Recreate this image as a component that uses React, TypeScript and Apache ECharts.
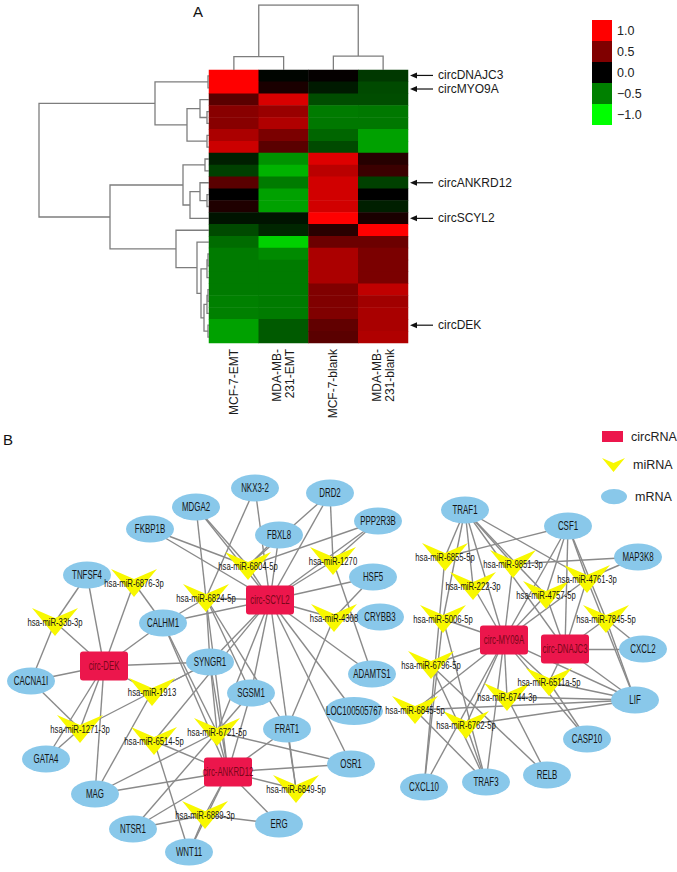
import { useEffect, useRef } from 'react';
import * as echarts from 'echarts';

const FONT = "'Liberation Sans', Arial, Helvetica, sans-serif";

// ---------------- Panel A data ----------------
const sampleLabels = ['MCF-7-EMT', 'MDA-MB-\n231-EMT', 'MCF-7-blank', 'MDA-MB-\n231-blank'];
const heatValues: number[][] = [
  [1.0, -0.02, 0.02, -0.22],
  [1.0, 0.1, -0.1, -0.29],
  [0.35, 0.85, -0.3, -0.3],
  [0.53, 0.6, -0.48, -0.47],
  [0.53, 0.69, -0.47, -0.47],
  [0.67, 0.48, -0.4, -0.63],
  [0.8, 0.35, -0.29, -0.63],
  [-0.12, -0.57, 0.87, 0.15],
  [-0.25, -0.7, 0.73, 0.23],
  [0.35, -0.48, 0.82, -0.25],
  [0.0, -0.63, 0.82, 0.0],
  [0.12, -0.63, 0.82, -0.12],
  [-0.08, -0.08, 1.0, 0.1],
  [-0.29, -0.15, 0.16, 1.0],
  [-0.42, -0.82, 0.42, 0.42],
  [-0.48, -0.54, 0.67, 0.48],
  [-0.48, -0.48, 0.67, 0.48],
  [-0.48, -0.48, 0.67, 0.48],
  [-0.48, -0.48, 0.5, 0.75],
  [-0.5, -0.48, 0.5, 0.63],
  [-0.5, -0.48, 0.5, 0.66],
  [-0.63, -0.35, 0.38, 0.66],
  [-0.63, -0.35, 0.35, 0.69],
];
const markedRows = [0, 1, 9, 12, 21];
const markedNames = ['circDNAJC3', 'circMYO9A', 'circANKRD12', 'circSCYL2', 'circDEK'];
// row clustering merges: [childA, childB, height]; ids < 23 are rows, ids >= 23 are earlier merges
const rowMerges: [number, number, number][] = [
  [0, 1, 0.01], [3, 4, 0.02], [2, 24, 0.09], [5, 6, 0.02], [25, 26, 0.22], [23, 27, 0.54],
  [7, 8, 0.04], [10, 11, 0.02], [9, 30, 0.09], [31, 12, 0.19], [29, 32, 0.26],
  [15, 16, 0.01], [34, 17, 0.02], [18, 19, 0.01], [36, 20, 0.02], [21, 22, 0.01],
  [37, 38, 0.05], [35, 39, 0.08], [14, 40, 0.12], [13, 41, 0.33], [33, 42, 0.99], [28, 43, 1.7],
];
const colMerges: [number, number, number][] = [[0, 1, 0.205], [2, 3, 0.215], [4, 5, 1.0]];
const scaleStops = [-1, -0.5, 0, 0.5, 1];
const scaleColors = ['#00ff00', '#008000', '#000000', '#800000', '#ff0000'];

// ---------------- Panel B data ----------------
const circNames = ['circ-DEK', 'circ-SCYL2', 'circ-ANKRD12', 'circ-MY09A', 'circ-DNAJC3'];
const mirNames = [
  'hsa-miR-6876-3p', 'hsa-miR-33b-3p', 'hsa-miR-6804-5p', 'hsa-miR-6824-5p', 'hsa-miR-1270', 'hsa-miR-4308',
  'hsa-miR-1913', 'hsa-miR-1271-3p', 'hsa-miR-6514-5p', 'hsa-miR-6721-5p', 'hsa-miR-6849-5p', 'hsa-miR-6889-3p',
  'hsa-miR-6855-5p', 'hsa-miR-9851-3p', 'hsa-miR-222-3p', 'hsa-miR-4761-3p', 'hsa-miR-4757-5p', 'hsa-miR-5006-5p',
  'hsa-miR-7845-5p', 'hsa-miR-6796-5p', 'hsa-miR-6511a-5p', 'hsa-miR-6744-3p', 'hsa-miR-6845-5p', 'hsa-miR-6762-5p',
];
const mrnaNames = [
  'NKX3-2', 'MDGA2', 'DRD2', 'FKBP1B', 'FBXL8', 'PPP2R3B', 'TNFSF4', 'HSF5', 'CRYBB3', 'CALHM1', 'CACNA1I',
  'SYNGR1', 'SGSM1', 'ADAMTS1', 'LOC100505767', 'GATA4', 'FRAT1', 'OSR1', 'MAG', 'ERG', 'NTSR1', 'WNT11',
  'TRAF1', 'CSF1', 'MAP3K8', 'CXCL2', 'LIF', 'CASP10', 'RELB', 'TRAF3', 'CXCL10',
];
// network layout (x, y) in the page's own pixel frame
const circLayout = [[104, 666], [270, 600], [228, 772], [504, 640], [565, 649]];
const mirLayout = [
  [134, 583], [55, 622], [248, 566], [206, 598], [333, 561], [334, 618],
  [152, 692], [80, 729], [154, 741], [217, 732], [296, 789], [205, 815],
  [445, 557], [513, 564], [473, 586], [587, 579], [546, 595], [443, 619],
  [606, 619], [431, 665], [549, 682], [507, 697], [415, 710], [466, 725],
];
const mrnaLayout = [
  [255, 488], [196, 507], [330, 493], [150, 529], [279, 535], [378, 521], [87, 575], [373, 577], [380, 617],
  [163, 623], [31, 681], [210, 662], [251, 693], [372, 674], [354, 711], [46, 759], [287, 729], [351, 764],
  [95, 794], [279, 824], [133, 829], [189, 852], [465, 510], [568, 526], [638, 557], [643, 649], [635, 700],
  [587, 739], [547, 775], [486, 782], [424, 787],
];
const edges: [string, string][] = [
  ['circ-DEK', 'CACNA1I'], ['circ-DEK', 'SYNGR1'], ['circ-DEK', 'CALHM1'], ['circ-DEK', 'TNFSF4'],
  ['circ-DEK', 'GATA4'], ['circ-DEK', 'MAG'], ['circ-DEK', 'hsa-miR-33b-3p'], ['circ-DEK', 'hsa-miR-6876-3p'],
  ['circ-DEK', 'hsa-miR-1271-3p'], ['circ-DEK', 'hsa-miR-1913'],
  ['hsa-miR-33b-3p', 'TNFSF4'], ['hsa-miR-33b-3p', 'CACNA1I'], ['hsa-miR-6876-3p', 'CALHM1'],
  ['hsa-miR-1271-3p', 'CACNA1I'], ['hsa-miR-1271-3p', 'GATA4'], ['hsa-miR-1271-3p', 'SYNGR1'],
  ['hsa-miR-1913', 'SYNGR1'], ['hsa-miR-1913', 'MAG'],
  ['circ-SCYL2', 'hsa-miR-6804-5p'], ['circ-SCYL2', 'hsa-miR-6824-5p'], ['circ-SCYL2', 'hsa-miR-1270'],
  ['circ-SCYL2', 'hsa-miR-4308'], ['circ-SCYL2', 'hsa-miR-6721-5p'], ['circ-SCYL2', 'hsa-miR-6849-5p'],
  ['circ-SCYL2', 'hsa-miR-6514-5p'], ['circ-SCYL2', 'NKX3-2'], ['circ-SCYL2', 'DRD2'], ['circ-SCYL2', 'FBXL8'],
  ['circ-SCYL2', 'PPP2R3B'], ['circ-SCYL2', 'HSF5'], ['circ-SCYL2', 'CALHM1'], ['circ-SCYL2', 'SYNGR1'],
  ['circ-SCYL2', 'SGSM1'], ['circ-SCYL2', 'ADAMTS1'], ['circ-SCYL2', 'LOC100505767'], ['circ-SCYL2', 'OSR1'],
  ['circ-SCYL2', 'MDGA2'], ['circ-SCYL2', 'FKBP1B'],
  ['hsa-miR-6804-5p', 'FKBP1B'], ['hsa-miR-6804-5p', 'MDGA2'], ['hsa-miR-6804-5p', 'FBXL8'],
  ['hsa-miR-6804-5p', 'PPP2R3B'], ['hsa-miR-6804-5p', 'DRD2'],
  ['hsa-miR-6824-5p', 'NKX3-2'], ['hsa-miR-6824-5p', 'MDGA2'], ['hsa-miR-6824-5p', 'CALHM1'],
  ['hsa-miR-6824-5p', 'SYNGR1'], ['hsa-miR-6824-5p', 'SGSM1'], ['hsa-miR-6824-5p', 'circ-ANKRD12'],
  ['hsa-miR-6824-5p', 'FRAT1'],
  ['hsa-miR-1270', 'DRD2'], ['hsa-miR-1270', 'PPP2R3B'], ['hsa-miR-1270', 'ADAMTS1'],
  ['hsa-miR-4308', 'HSF5'], ['hsa-miR-4308', 'FRAT1'], ['hsa-miR-4308', 'CRYBB3'],
  ['hsa-miR-6721-5p', 'CALHM1'], ['hsa-miR-6721-5p', 'SYNGR1'], ['hsa-miR-6721-5p', 'SGSM1'],
  ['hsa-miR-6721-5p', 'MAG'], ['hsa-miR-6721-5p', 'NTSR1'], ['hsa-miR-6721-5p', 'OSR1'],
  ['circ-ANKRD12', 'hsa-miR-6721-5p'], ['circ-ANKRD12', 'FRAT1'], ['circ-ANKRD12', 'OSR1'],
  ['circ-ANKRD12', 'MAG'], ['circ-ANKRD12', 'ERG'], ['circ-ANKRD12', 'WNT11'], ['circ-ANKRD12', 'NTSR1'],
  ['circ-ANKRD12', 'CALHM1'], ['circ-ANKRD12', 'SGSM1'], ['circ-ANKRD12', 'SYNGR1'],
  ['circ-ANKRD12', 'hsa-miR-6514-5p'], ['circ-ANKRD12', 'hsa-miR-6889-3p'], ['circ-ANKRD12', 'hsa-miR-6849-5p'],
  ['hsa-miR-6514-5p', 'WNT11'], ['hsa-miR-6849-5p', 'FRAT1'],
  ['hsa-miR-6889-3p', 'ERG'], ['hsa-miR-6889-3p', 'WNT11'], ['hsa-miR-6889-3p', 'NTSR1'],
  ['circ-MY09A', 'TRAF1'], ['circ-MY09A', 'CSF1'], ['circ-MY09A', 'LIF'], ['circ-MY09A', 'TRAF3'],
  ['circ-MY09A', 'CXCL10'], ['circ-MY09A', 'CASP10'], ['circ-MY09A', 'hsa-miR-222-3p'],
  ['circ-MY09A', 'hsa-miR-9851-3p'], ['circ-MY09A', 'hsa-miR-4761-3p'], ['circ-MY09A', 'hsa-miR-5006-5p'],
  ['circ-MY09A', 'hsa-miR-6796-5p'], ['circ-MY09A', 'hsa-miR-6845-5p'], ['circ-MY09A', 'hsa-miR-6762-5p'],
  ['circ-MY09A', 'hsa-miR-6744-3p'], ['circ-MY09A', 'hsa-miR-6511a-5p'], ['circ-MY09A', 'hsa-miR-4757-5p'],
  ['circ-DNAJC3', 'CSF1'], ['circ-DNAJC3', 'CXCL2'], ['circ-DNAJC3', 'LIF'], ['circ-DNAJC3', 'hsa-miR-4757-5p'],
  ['circ-DNAJC3', 'hsa-miR-4761-3p'], ['circ-DNAJC3', 'hsa-miR-7845-5p'], ['circ-DNAJC3', 'hsa-miR-6511a-5p'],
  ['circ-DNAJC3', 'TRAF1'],
  ['TRAF1', 'hsa-miR-6855-5p'], ['TRAF1', 'hsa-miR-9851-3p'], ['TRAF1', 'hsa-miR-4757-5p'],
  ['TRAF1', 'hsa-miR-4761-3p'], ['TRAF1', 'hsa-miR-5006-5p'], ['TRAF1', 'hsa-miR-222-3p'],
  ['CSF1', 'hsa-miR-6855-5p'], ['CSF1', 'hsa-miR-4757-5p'], ['CSF1', 'hsa-miR-4761-3p'], ['CSF1', 'hsa-miR-7845-5p'],
  ['MAP3K8', 'hsa-miR-9851-3p'], ['MAP3K8', 'hsa-miR-4761-3p'],
  ['hsa-miR-6855-5p', 'CXCL10'], ['hsa-miR-5006-5p', 'TRAF3'], ['hsa-miR-5006-5p', 'CXCL10'],
  ['hsa-miR-6796-5p', 'TRAF3'], ['hsa-miR-6796-5p', 'RELB'], ['hsa-miR-6845-5p', 'LIF'], ['hsa-miR-6845-5p', 'TRAF3'],
  ['hsa-miR-6762-5p', 'LIF'], ['hsa-miR-6762-5p', 'TRAF3'], ['hsa-miR-6744-3p', 'LIF'], ['hsa-miR-6744-3p', 'RELB'],
  ['hsa-miR-6511a-5p', 'LIF'], ['hsa-miR-6511a-5p', 'CASP10'], ['hsa-miR-7845-5p', 'CXCL2'],
  ['hsa-miR-7845-5p', 'LIF'], ['hsa-miR-4761-3p', 'LIF'],
];
const nodeTypes = ['circRNA', 'miRNA', 'mRNA'];

// ---------------- helpers ----------------
function dendroSegments(merges: [number, number, number][], nLeaves: number) {
  const pos: number[] = [];
  const hgt: number[] = [];
  for (let i = 0; i < nLeaves; i++) { pos[i] = i + 0.5; hgt[i] = 0; }
  const segs: number[][][] = [];
  merges.forEach(([a, b, h], k) => {
    const id = nLeaves + k;
    pos[id] = (pos[a] + pos[b]) / 2;
    hgt[id] = h;
    segs.push([[hgt[a], pos[a]], [h, pos[a]], [h, pos[b]], [hgt[b], pos[b]]]);
  });
  return segs;
}

const RED = '#ec164c';
const YELLOW = '#f8f800';
const BLUE = '#89c8ea';
const rectSym = 'path://M3,0 L45,0 Q48,0 48,3 L48,26 Q48,29 45,29 L3,29 Q0,29 0,26 L0,3 Q0,0 3,0 Z';
const vSym = 'path://M0,0 L23,10 L46,0 L23,28 Z';
const ellSym = 'path://M0,14 A24,14 0 1 1 48,14 A24,14 0 1 1 0,14 Z';
const labelFont = [12, 11, 12];
const labelScale = [0.65, 0.7, 0.66];

export default function App() {
  const ref = useRef<HTMLDivElement>(null);
  useEffect(() => {
    if (!ref.current) return;
    const chart = echarts.init(ref.current, undefined, { renderer: 'svg' });
    const nRows = heatValues.length;
    const rowIds = heatValues.map((_, i) => 'row' + (i + 1));
    const heatData: number[][] = [];
    heatValues.forEach((row, r) => row.forEach((v, c) => heatData.push([c, r, v])));

    const rowSegs = dendroSegments(rowMerges, nRows);
    const colSegs = dendroSegments(colMerges, sampleLabels.length).map((s) => s.map(([h, p]) => [p, h]));

    const nodes: any[] = [];
    circNames.forEach((n, i) => nodes.push({
      name: n, value: circLayout[i], category: 0, symbol: rectSym, symbolSize: [48, 29],
    }));
    mirNames.forEach((n, i) => nodes.push({
      name: n, value: mirLayout[i], category: 1, symbol: vSym, symbolSize: [46, 28],
    }));
    mrnaNames.forEach((n, i) => nodes.push({
      name: n, value: mrnaLayout[i], category: 2, symbol: ellSym,
      symbolSize: n.length > 8 ? [58, 28] : [48, 27],
    }));
    const links = edges.map(([s, t]) => ({ source: s, target: t }));

    const legendTextStyle = { fontSize: 12.5, color: '#222', fontFamily: FONT, padding: [0, 0, 0, 3] };

    const graphic: any[] = [
      { type: 'text', left: 193, top: 4, style: { text: 'A', fontSize: 15, fill: '#111', fontFamily: FONT } },
      { type: 'text', left: 3, top: 432, style: { text: 'B', fontSize: 15, fill: '#111', fontFamily: FONT } },
    ];
    const legendStops = scaleStops.slice().reverse();
    const legendColors = scaleColors.slice().reverse();
    legendStops.forEach((v, i) => {
      graphic.push({ type: 'rect', shape: { x: 592, y: 20 + i * 21, width: 20, height: 21 }, style: { fill: legendColors[i] } });
      graphic.push({
        type: 'text', x: 617, y: 20 + i * 21 + 10.5,
        style: { text: v.toFixed(1).replace('-', '\u2212'), fontSize: 12.5, fill: '#222', fontFamily: FONT, verticalAlign: 'middle' },
      });
    });

    const option: any = {
      animation: false,
      backgroundColor: '#ffffff',
      grid: [
        { left: 209, top: 70, width: 199, height: 273 },
        { left: 39, top: 70, width: 170, height: 273 },
        { left: 209, top: 5, width: 199, height: 65 },
        { left: 0, top: 0, width: 677, height: 872 },
      ],
      xAxis: [
        {
          gridIndex: 0, type: 'category', data: sampleLabels, axisLine: { show: false }, axisTick: { show: false },
          splitLine: { show: false },
          axisLabel: { rotate: 90, fontSize: 12, lineHeight: 13, color: '#1a1a1a', fontFamily: FONT, margin: 6, interval: 0 },
        },
        { gridIndex: 1, type: 'value', min: 0, max: 1.7, inverse: true, show: false },
        { gridIndex: 2, type: 'value', min: 0, max: 4, show: false },
        { gridIndex: 3, type: 'value', min: 0, max: 677, show: false },
      ],
      yAxis: [
        { gridIndex: 0, type: 'category', data: rowIds, inverse: true, show: false },
        { gridIndex: 1, type: 'value', min: 0, max: nRows, inverse: true, show: false },
        { gridIndex: 2, type: 'value', min: 0, max: 1, show: false },
        { gridIndex: 3, type: 'value', min: 0, max: 872, inverse: true, show: false },
      ],
      visualMap: {
        type: 'continuous', show: false, min: -1, max: 1, seriesIndex: 0, dimension: 2,
        inRange: { color: scaleColors },
      },
      legend: [
        { data: [{ name: 'circRNA', icon: 'path://M0,0 L21,0 L21,11 L0,11 Z' }], left: 602, top: 430, itemWidth: 21, itemHeight: 11, textStyle: legendTextStyle, selectedMode: false, padding: 0 },
        { data: [{ name: 'miRNA', icon: vSym }], left: 602, top: 458, itemWidth: 23, itemHeight: 19, textStyle: legendTextStyle, selectedMode: false, padding: 0 },
        { data: [{ name: 'mRNA', icon: ellSym }], left: 601, top: 489, itemWidth: 26, itemHeight: 16, textStyle: legendTextStyle, selectedMode: false, padding: 0 },
      ],
      graphic,
      series: [
        {
          type: 'heatmap', xAxisIndex: 0, yAxisIndex: 0, data: heatData, silent: true,
          itemStyle: { borderWidth: 0 },
        },
        {
          type: 'lines', coordinateSystem: 'cartesian2d', xAxisIndex: 1, yAxisIndex: 1, polyline: true, silent: true,
          data: rowSegs.map((c) => ({ coords: c })), lineStyle: { color: '#7d7d7d', width: 1.3, opacity: 1 },
        },
        {
          type: 'lines', coordinateSystem: 'cartesian2d', xAxisIndex: 2, yAxisIndex: 2, polyline: true, silent: true,
          data: colSegs.map((c) => ({ coords: c })), lineStyle: { color: '#7d7d7d', width: 1.3, opacity: 1 },
        },
        {
          type: 'custom', xAxisIndex: 0, yAxisIndex: 0, silent: true, clip: false,
          data: markedRows.map((r) => [sampleLabels.length - 1, r]),
          renderItem: (params: any, api: any) => {
            const p = api.coord([api.value(0), api.value(1)]);
            const sz = api.size([1, 1]);
            const x0 = p[0] + sz[0] / 2 + 2;
            const dy = params.dataIndex === 0 ? -0.5 : params.dataIndex === 1 ? 1.2 : 0;
            const y = p[1] + dy;
            return {
              type: 'group',
              children: [
                { type: 'line', shape: { x1: x0 + 5, y1: y, x2: x0 + 23, y2: y }, style: { stroke: '#111', lineWidth: 1.2 } },
                { type: 'polygon', shape: { points: [[x0, y], [x0 + 7, y - 3], [x0 + 7, y + 3]] }, style: { fill: '#111' } },
                {
                  type: 'text', x: x0 + 28, y,
                  style: { text: markedNames[params.dataIndex], fontSize: 12, fill: '#1a1a1a', fontFamily: FONT, verticalAlign: 'middle' },
                },
              ],
            };
          },
        },
        {
          type: 'graph', coordinateSystem: 'cartesian2d', xAxisIndex: 3, yAxisIndex: 3, silent: true,
          categories: nodeTypes.map((n, i) => ({
            name: n, symbol: [rectSym, vSym, ellSym][i], itemStyle: { color: [RED, YELLOW, BLUE][i] },
          })),
          data: nodes, links,
          lineStyle: { color: '#8a8a8a', width: 1.4, opacity: 1, curveness: 0 },
          label: { show: false },
          emphasis: { disabled: true },
        },
        {
          type: 'custom', xAxisIndex: 3, yAxisIndex: 3, silent: true, z: 5,
          data: nodes.map((n) => n.value),
          renderItem: (params: any, api: any) => {
            const p = api.coord([api.value(0), api.value(1)]);
            const n = nodes[params.dataIndex];
            return {
              type: 'text', x: p[0], y: p[1], scaleX: labelScale[n.category],
              style: {
                text: n.name, x: 0, y: 0, align: 'center', verticalAlign: 'middle', fontSize: labelFont[n.category],
                fill: n.category === 0 ? '#7a0619' : '#151515', fontFamily: FONT,
              },
            };
          },
        },
      ],
    };
    chart.setOption(option);
    return () => chart.dispose();
  }, []);
  return <div ref={ref} style={{ position: 'absolute', left: 0, top: 0, width: 677, height: 872, background: '#fff' }} />;
}
